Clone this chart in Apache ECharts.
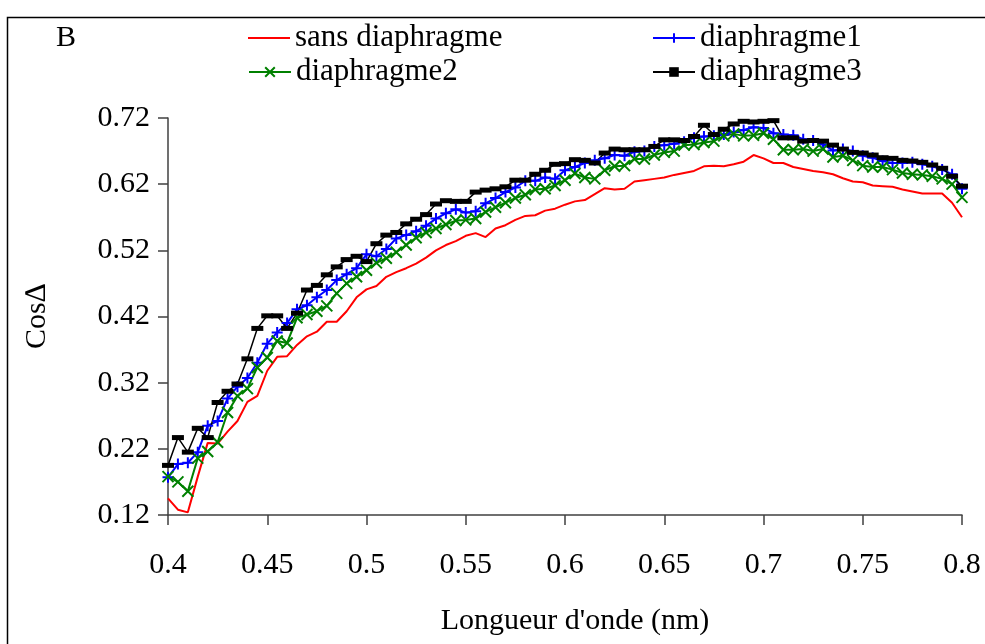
<!DOCTYPE html>
<html><head><meta charset="utf-8">
<script src="https://cdn.jsdelivr.net/npm/echarts@6/dist/echarts.min.js"></script>
<style>html,body{margin:0;padding:0;background:#fff}#c{width:985px;height:644px}</style>
</head><body><div id="c"></div>
<script>
const wavelengths = [
 0.400,0.405,0.410,0.415,0.420,0.425,0.430,0.435,0.440,0.445,
 0.450,0.455,0.460,0.465,0.470,0.475,0.480,0.485,0.490,0.495,
 0.500,0.505,0.510,0.515,0.520,0.525,0.530,0.535,0.540,0.545,
 0.550,0.555,0.560,0.565,0.570,0.575,0.580,0.585,0.590,0.595,
 0.600,0.605,0.610,0.615,0.620,0.625,0.630,0.635,0.640,0.645,
 0.650,0.655,0.660,0.665,0.670,0.675,0.680,0.685,0.690,0.695,
 0.700,0.705,0.710,0.715,0.720,0.725,0.730,0.735,0.740,0.745,
 0.750,0.755,0.760,0.765,0.770,0.775,0.780,0.785,0.790,0.795,
 0.800];
const sansDiaphragme = [
 0.145,0.128,0.124,0.178,0.229,0.228,0.246,0.262,0.291,0.300,
 0.338,0.359,0.360,0.377,0.390,0.397,0.412,0.412,0.428,0.449,
 0.461,0.466,0.480,0.487,0.493,0.500,0.509,0.520,0.528,0.534,
 0.542,0.546,0.540,0.553,0.558,0.566,0.572,0.573,0.580,0.583,
 0.589,0.594,0.596,0.605,0.614,0.612,0.613,0.624,0.626,0.628,
 0.630,0.634,0.637,0.640,0.647,0.648,0.647,0.650,0.654,0.664,
 0.659,0.652,0.652,0.646,0.643,0.640,0.638,0.635,0.629,0.624,
 0.623,0.618,0.617,0.616,0.612,0.609,0.606,0.606,0.606,0.592,
 0.570];
const diaphragme1 = [
 0.177,0.197,0.199,0.215,0.255,0.262,0.296,0.314,0.327,0.350,
 0.379,0.396,0.410,0.431,0.437,0.449,0.460,0.475,0.484,0.493,
 0.514,0.511,0.522,0.538,0.543,0.549,0.557,0.568,0.576,0.582,
 0.577,0.579,0.591,0.599,0.608,0.615,0.625,0.625,0.630,0.628,
 0.641,0.646,0.652,0.656,0.659,0.664,0.663,0.669,0.670,0.677,
 0.679,0.681,0.684,0.690,0.692,0.693,0.695,0.699,0.702,0.706,
 0.705,0.697,0.695,0.694,0.688,0.686,0.680,0.671,0.673,0.670,
 0.663,0.660,0.655,0.652,0.652,0.653,0.650,0.647,0.642,0.635,
 0.613];
const diaphragme2 = [
 0.178,0.170,0.156,0.206,0.216,0.230,0.275,0.300,0.311,0.343,
 0.358,0.383,0.380,0.418,0.423,0.428,0.436,0.455,0.470,0.480,
 0.490,0.501,0.508,0.517,0.528,0.539,0.547,0.553,0.559,0.565,
 0.566,0.568,0.578,0.585,0.592,0.599,0.604,0.612,0.613,0.618,
 0.626,0.636,0.630,0.628,0.641,0.647,0.648,0.658,0.658,0.664,
 0.668,0.670,0.679,0.680,0.683,0.685,0.693,0.696,0.693,0.694,
 0.697,0.688,0.672,0.672,0.673,0.670,0.673,0.661,0.663,0.656,
 0.648,0.646,0.646,0.642,0.637,0.635,0.634,0.632,0.628,0.620,
 0.600];
const diaphragme3 = [
 0.195,0.237,0.215,0.251,0.237,0.290,0.307,0.318,0.356,0.402,
 0.421,0.421,0.402,0.425,0.460,0.467,0.483,0.495,0.506,0.511,
 0.503,0.530,0.543,0.547,0.560,0.567,0.574,0.590,0.595,0.594,
 0.594,0.608,0.611,0.613,0.616,0.626,0.626,0.635,0.641,0.650,
 0.651,0.657,0.656,0.652,0.667,0.673,0.672,0.672,0.672,0.677,
 0.687,0.687,0.686,0.692,0.709,0.695,0.703,0.711,0.715,0.714,
 0.715,0.716,0.690,0.690,0.685,0.686,0.685,0.679,0.673,0.668,
 0.667,0.664,0.660,0.659,0.656,0.655,0.653,0.649,0.644,0.632,
 0.617];
const yTicks = [0.12,0.22,0.32,0.42,0.52,0.62,0.72];
const seriesNames = ['sans diaphragme','diaphragme1','diaphragme2','diaphragme3'];
const panelLabel = 'B';
const xTitle = "Longueur d'onde (nm)";
const yTitle = 'Cos\u2206';

const FONT = 'Liberation Serif';
const FS = 30;
const LFS = 31;
function pairs(vals){ return wavelengths.map((w,i)=>[w, vals[i]]); }

const chart = echarts.init(document.getElementById('c'), null, {renderer:'canvas'});
const axisCol = '#404040';
function legendAt(name, left, top, extra){
  return Object.assign({data:[name], left:left, top:top, padding:0, itemWidth:42, itemHeight:12, itemGap:0,
    textStyle:{fontFamily:FONT, fontSize:LFS, color:'#000', lineHeight:32}, selectedMode:false}, extra||{});
}
chart.setOption({
  animation:false,
  backgroundColor:'#fff',
  textStyle:{fontFamily:FONT},
  grid:{left:168, right:23, top:118, bottom:129, containLabel:false},
  graphic:[
    {type:'rect', left:5, top:15, shape:{width:1000, height:700}, style:{fill:'none', stroke:'#000', lineWidth:1.5}, silent:true},
    {type:'text', left:56, top:23, style:{text:panelLabel, font:FS+'px '+FONT, fill:'#000'}}
  ],
  legend:[
    legendAt(seriesNames[0], 248, 22, {icon:'rect', itemHeight:2}),
    legendAt(seriesNames[1], 652, 22),
    legendAt(seriesNames[2], 248, 56),
    legendAt(seriesNames[3], 652, 56)
  ],
  xAxis:{type:'value', min:0.4, max:0.8, interval:0.05,
    name:xTitle, nameLocation:'middle', nameGap:91,
    nameTextStyle:{fontFamily:FONT, fontSize:FS, color:'#000', padding:[0,0,0,20]},
    axisLine:{lineStyle:{color:axisCol, width:1.5}},
    axisTick:{length:10, lineStyle:{color:axisCol, width:1.5}},
    axisLabel:{fontFamily:FONT, fontSize:FS, color:'#000', margin:35,
      formatter:v=>String(+(+v).toFixed(2))},
    splitLine:{show:false}},
  yAxis:{type:'value', min:0.12, max:0.72,
    name:yTitle, nameLocation:'middle', nameRotate:90, nameGap:116,
    nameTextStyle:{fontFamily:FONT, fontSize:FS, color:'#000'},
    axisLine:{show:true, lineStyle:{color:axisCol, width:1.5}},
    axisTick:{show:true, length:10, customValues:yTicks, lineStyle:{color:axisCol, width:1.5}},
    axisLabel:{fontFamily:FONT, fontSize:FS, color:'#000', margin:18, customValues:yTicks,
      formatter:v=>(+v).toFixed(2)},
    splitLine:{show:false}},
  series:[
    {name:seriesNames[0], type:'line', data:pairs(sansDiaphragme), symbol:'none', showSymbol:false,
      lineStyle:{color:'#ff0000', width:2}, itemStyle:{color:'#ff0000'}},
    {name:seriesNames[1], type:'line', data:pairs(diaphragme1),
      symbol:'path://M5,0L5,10M0,5L10,5', symbolSize:11,
      lineStyle:{color:'#0000ff', width:2}, itemStyle:{color:'#0000ff', borderColor:'#0000ff', borderWidth:2}},
    {name:seriesNames[2], type:'line', data:pairs(diaphragme2),
      symbol:'path://M0,0L10,10M10,0L0,10', symbolSize:11,
      lineStyle:{color:'#008000', width:2}, itemStyle:{color:'#008000', borderColor:'#008000', borderWidth:2}},
    {name:seriesNames[3], type:'line', data:pairs(diaphragme3),
      symbol:'rect', symbolSize:[12,5],
      lineStyle:{color:'#000000', width:1.5}, itemStyle:{color:'#000000', borderWidth:0}}
  ]
});
</script></body></html>
